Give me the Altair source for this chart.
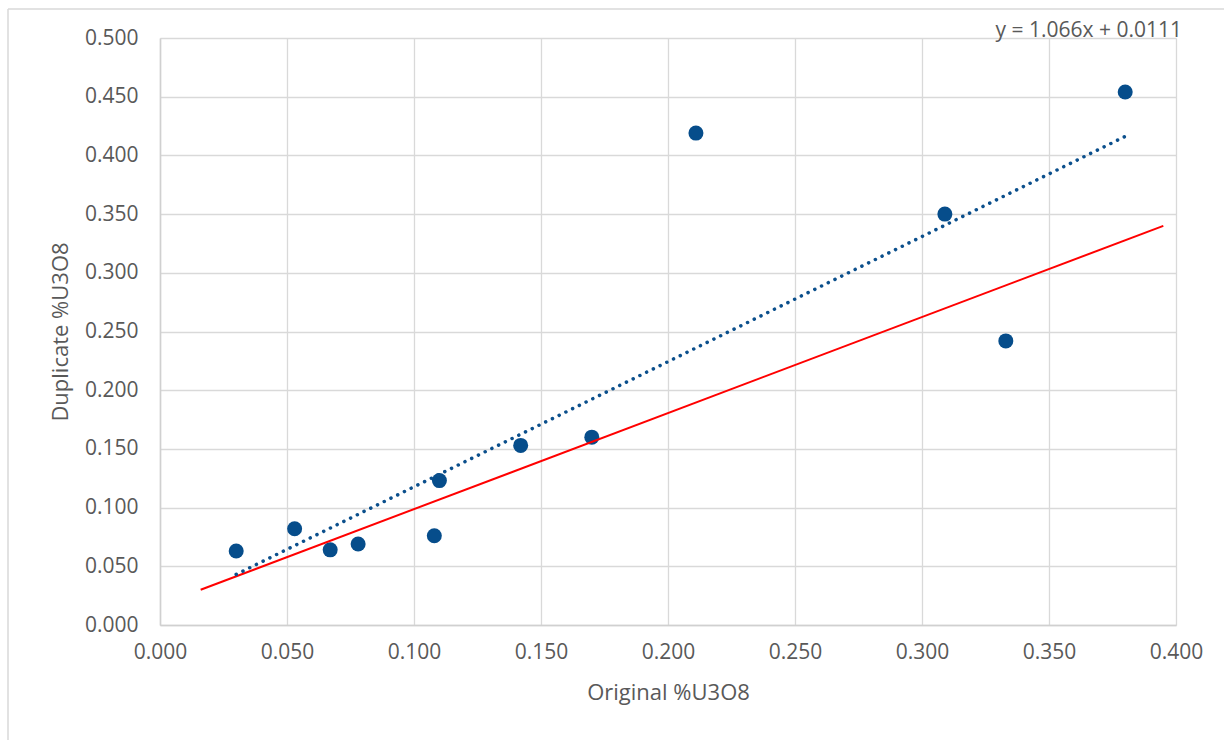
import altair as alt
import pandas as pd

# Data
original = [0.030, 0.053, 0.067, 0.078, 0.108, 0.110, 0.142, 0.170, 0.211, 0.309, 0.333, 0.380]
duplicate = [0.063, 0.082, 0.064, 0.069, 0.076, 0.123, 0.153, 0.160, 0.419, 0.350, 0.242, 0.454]

trend_slope = 1.066
trend_intercept = 0.0111
trend_x = [min(original), max(original)]

ref_x = [0.016, 0.395]
ref_y = [0.030, 0.340]

equation_text = "y = 1.066x + 0.0111"
x_title = "Original %U3O8"
y_title = "Duplicate %U3O8"

FONT = "Open Sans"
GRAY = "#595959"

pts = pd.DataFrame({"x": original, "y": duplicate})
trend = pd.DataFrame({"x": trend_x, "y": [trend_slope * v + trend_intercept for v in trend_x]})
ref = pd.DataFrame({"x": ref_x, "y": ref_y})

xs = alt.Scale(domain=[0, 0.4], nice=False)
ys = alt.Scale(domain=[0, 0.5], nice=False)

x_axis = alt.Axis(values=[i * 0.05 for i in range(9)], format=".3f", title=x_title,
                  grid=True, ticks=False, labelPadding=16, titlePadding=20, labelFlush=False)
y_axis = alt.Axis(values=[i * 0.05 for i in range(11)], format=".3f", title=y_title,
                  grid=True, ticks=False, labelPadding=22, titlePadding=12, labelFlush=False)

base_x = alt.X("x:Q", scale=xs, axis=x_axis)
base_y = alt.Y("y:Q", scale=ys, axis=y_axis)

ref_line = alt.Chart(ref).mark_line(color="#ff0000", strokeWidth=2).encode(
    x=alt.X("x:Q", scale=xs), y=alt.Y("y:Q", scale=ys))

trend_line = alt.Chart(trend).mark_line(color="#0b4f8c", strokeWidth=3.5, strokeDash=[0.1, 7.4],
                                        strokeCap="round").encode(
    x=alt.X("x:Q", scale=xs), y=alt.Y("y:Q", scale=ys))

points = alt.Chart(pts).mark_circle(size=225, color="#064d8b", opacity=1).encode(
    x=base_x, y=base_y)

eq = alt.Chart(pd.DataFrame({"t": [equation_text]})).mark_text(
    align="right", baseline="bottom", font=FONT, fontSize=21, color=GRAY, dy=3
).encode(x=alt.value(1022), y=alt.value(0), text="t:N")

# outer chart frame (decorative)
frame = alt.Chart(pd.DataFrame({"a": [0]})).mark_rule(color="#d9d9d9", strokeWidth=1.5, clip=False)
frame_top = frame.encode(x=alt.value(-152), x2=alt.value(1070), y=alt.value(-29))
frame_left = frame.encode(x=alt.value(-152), y=alt.value(-29), y2=alt.value(710))

chart = alt.layer(points, ref_line, trend_line, eq, frame_top, frame_left).properties(
    width=1016, height=587,
    autosize=alt.AutoSizeParams(type="none"),
    padding={"left": 160, "top": 38, "right": 48, "bottom": 115},
    background="white",
).configure_axis(
    gridColor="#d9d9d9", gridWidth=1.3, domainColor="#d0d0d0", domainWidth=1.5,
    labelFont=FONT, labelFontSize=21, labelColor=GRAY,
    titleFont=FONT, titleFontSize=22, titleColor=GRAY, titleFontWeight="normal",
).configure_view(stroke=None)

chart.save("out.html", embed_options={"renderer": "svg", "actions": False})
